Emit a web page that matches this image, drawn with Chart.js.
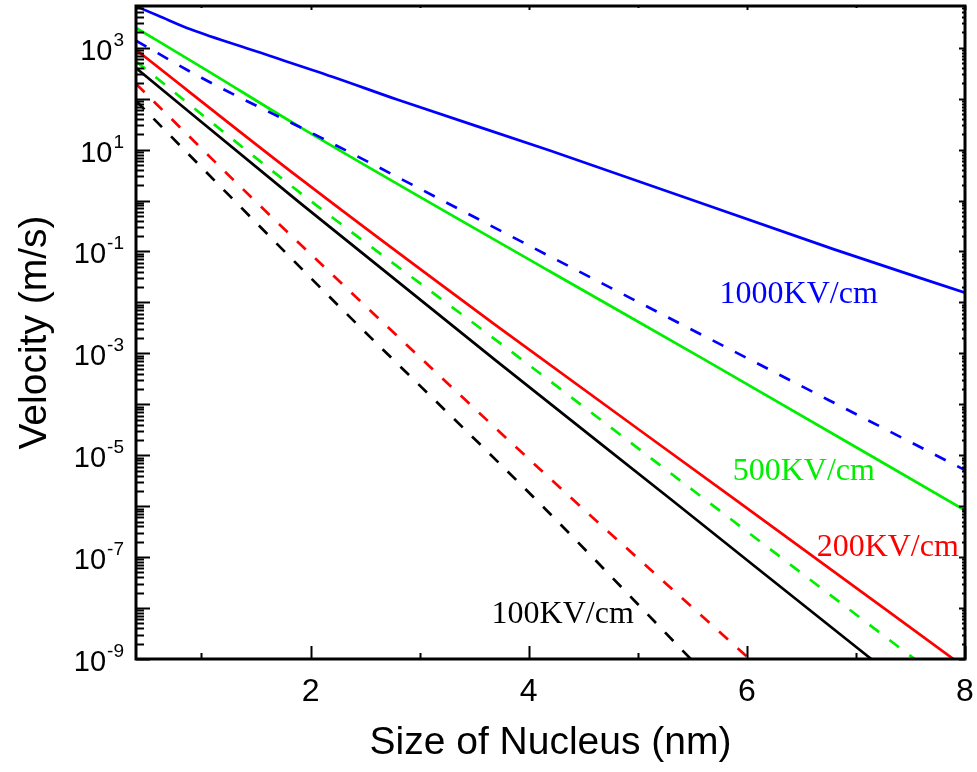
<!DOCTYPE html>
<html>
<head>
<meta charset="utf-8">
<script src="https://cdn.jsdelivr.net/npm/chart.js@4.4.0/dist/chart.umd.min.js"></script>
<style>
  html, body { margin: 0; padding: 0; background: #fff; }
  canvas { display: block; }
</style>
</head>
<body>
<canvas id="grafico" width="977" height="772"></canvas>
<script>
// valores (velocidad en m/s, tamaño en nm)
const x1000Solid = [0.4, 0.6, 0.9, 1.5, 2.2, 2.8, 4.2, 6.8, 8.0];
const v1000Solid = [6500, 4300, 2300, 850, 270, 95, 9.5, 0.11, 0.0155];

const x1000Dash = [0.4, 1.0, 2.1, 4.2, 5.6, 8.0];
const v1000Dash = [1380, 257, 17, 0.079, 2.24e-3, 5.1e-6];

const x500Solid = [0.4, 1.0, 1.9, 4.2, 5.6, 8.0];
const v500Solid = [2450, 417, 28, 0.040, 7.8e-4, 8.3e-7];

const x500Dash = [0.4, 1.9, 3.8, 5.5, 7.5, 8.0];
const v500Dash = [540, 1.45, 1.26e-3, 2.1e-6, 1.15e-9, 1.8e-10];

const x200Solid = [0.4, 1.9, 3.7, 5.9, 8.0];
const v200Solid = [910, 2.75, 3.55e-3, 1.32e-6, 6.8e-10];

const x200Dash = [0.4, 1.45, 2.1, 4.15, 5.9, 6.1];
const v200Dash = [195, 1.2, 0.056, 4.3e-6, 1.74e-9, 7.1e-10];

const x100Solid = [0.4, 1.9, 3.7, 5.3, 7.1, 8.0];
const v100Solid = [400, 0.91, 7.2e-4, 1.38e-6, 1.17e-9, 3.5e-11];

const x100Dash = [0.4, 0.65, 1.25, 2.25, 4.15, 5.35, 5.6];
const v100Dash = [91, 26, 1.29, 8.9e-3, 8.9e-7, 2.0e-9, 5.6e-10];

// ejes
const xTicks = [2, 4, 6, 8];
const xMinorTicks = [1, 3, 5, 7];
const yLabelExps = [3, 1, -1, -3, -5, -7, -9];
const yMinExp = -9;
const yMaxExp = 3;

// etiquetas de campo
const campoTextos = ['1000KV/cm', '500KV/cm', '200KV/cm', '100KV/cm'];
const campoColores = ['#0000ff', '#00ee00', '#ff0000', '#000000'];
const campoX = [5.75, 5.87, 6.64, 3.66];
const campoY = [9.8e-3, 3.2e-6, 1.05e-7, 5.0e-9];

const fuenteSans = '"Liberation Sans", Arial, sans-serif';

function puntos(xs, vs) {
    return xs.map((x, i) => ({ x: x, y: vs[i] }));
}

function serie(xs, vs, color, dashed) {
    return {
        data: puntos(xs, vs),
        borderColor: color,
        borderWidth: 2.7,
        borderDash: dashed ? [12, 13] : [],
        pointRadius: 0,
        cubicInterpolationMode: 'monotone',
        fill: false
    };
}

// Dibuja el marco, las marcas hacia adentro y las etiquetas 10^n
const marcasPlugin = {
    id: 'marcas',
    afterDatasetsDraw(chart) {
        const ctx = chart.ctx;
        const a = chart.chartArea;
        const xs = chart.scales.x;
        const ys = chart.scales.y;
        ctx.save();
        ctx.strokeStyle = '#000';
        ctx.lineCap = 'butt';

        ctx.lineWidth = 2;
        // marcas eje y (izquierda y derecha)
        for (let e = yMinExp; e <= yMaxExp + 1; e++) {
            for (let m = 1; m <= 9; m++) {
                const v = m * Math.pow(10, e);
                if (v < ys.min * 0.999 || v > ys.max) continue;
                const py = Math.round(ys.getPixelForValue(v)) + 0.5;
                const largo = m === 1 ? 14 : 8;
                ctx.beginPath();
                ctx.moveTo(a.left, py);
                ctx.lineTo(a.left + largo, py);
                ctx.stroke();
                const largoDer = m === 1 ? 6 : 3;
                ctx.beginPath();
                ctx.moveTo(a.right, py);
                ctx.lineTo(a.right - largoDer, py);
                ctx.stroke();
            }
        }
        // marcas eje x (abajo y arriba)
        xTicks.concat(xMinorTicks).forEach(v => {
            const px = Math.round(xs.getPixelForValue(v)) + 0.5;
            const mayor = xTicks.includes(v);
            ctx.beginPath();
            ctx.moveTo(px, a.bottom);
            ctx.lineTo(px, a.bottom - (mayor ? 13 : 6));
            ctx.stroke();
            ctx.beginPath();
            ctx.moveTo(px, a.top);
            ctx.lineTo(px, a.top + (mayor ? 4 : 2));
            ctx.stroke();
        });

        // marco
        ctx.lineWidth = 3;
        ctx.strokeRect(a.left, a.top, a.right - a.left, a.bottom - a.top);

        // etiquetas del eje y con exponente
        ctx.fillStyle = '#000';
        ctx.textAlign = 'left';
        ctx.textBaseline = 'alphabetic';
        const derecha = a.left - 12;
        yLabelExps.forEach(e => {
            const py = ys.getPixelForValue(Math.pow(10, e));
            const expo = String(e);
            ctx.font = '19px ' + fuenteSans;
            const we = ctx.measureText(expo).width;
            ctx.font = '29px ' + fuenteSans;
            const wb = ctx.measureText('10').width;
            ctx.fillText('10', derecha - we - wb - 1, py + 12);
            ctx.font = '19px ' + fuenteSans;
            ctx.fillText(expo, derecha - we, py - 2);
        });

        // etiquetas de cada campo
        ctx.font = '32px "Liberation Serif", "Times New Roman", serif';
        campoTextos.forEach((t, i) => {
            ctx.fillStyle = campoColores[i];
            ctx.fillText(t, xs.getPixelForValue(campoX[i]), ys.getPixelForValue(campoY[i]));
        });
        ctx.restore();
    }
};

const ctx = document.getElementById('grafico').getContext('2d');
const grafico = new Chart(ctx, {
    type: 'line',
    data: {
        datasets: [
            serie(x1000Solid, v1000Solid, '#0000ff', false),
            serie(x1000Dash, v1000Dash, '#0000ff', true),
            serie(x500Solid, v500Solid, '#00ee00', false),
            serie(x500Dash, v500Dash, '#00ee00', true),
            serie(x200Solid, v200Solid, '#ff0000', false),
            serie(x200Dash, v200Dash, '#ff0000', true),
            serie(x100Solid, v100Solid, '#000000', false),
            serie(x100Dash, v100Dash, '#000000', true)
        ]
    },
    options: {
        responsive: false,
        animation: false,
        layout: { padding: { top: 6, right: 12, left: 0, bottom: 0 } },
        plugins: {
            legend: { display: false },
            tooltip: { enabled: false }
        },
        scales: {
            x: {
                type: 'linear',
                min: 0.4,
                max: 8,
                grid: { display: false },
                border: { display: false },
                afterBuildTicks: (scale) => {
                    scale.ticks = xTicks.map(v => ({ value: v }));
                },
                afterFit: (scale) => {
                    scale.height = 113;
                    scale.paddingLeft = 0;
                    scale.paddingRight = 0;
                },
                ticks: {
                    autoSkip: false,
                    maxRotation: 0,
                    padding: 6,
                    color: '#000',
                    font: { family: fuenteSans, size: 32 },
                    callback: (v) => String(v)
                },
                title: {
                    display: true,
                    text: 'Size of Nucleus (nm)',
                    color: '#000',
                    font: { family: fuenteSans, size: 39 },
                    padding: { top: 0, bottom: 5 }
                }
            },
            y: {
                type: 'logarithmic',
                min: Math.pow(10, yMinExp),
                max: 6600,
                grid: { display: false },
                border: { display: false },
                afterBuildTicks: (scale) => {
                    scale.ticks = yLabelExps.map(e => ({ value: Math.pow(10, e) }));
                },
                afterFit: (scale) => {
                    scale.width = 136;
                    scale.paddingTop = 0;
                    scale.paddingBottom = 0;
                },
                ticks: { display: false },
                title: {
                    display: true,
                    text: 'Velocity (m/s)',
                    color: '#000',
                    font: { family: fuenteSans, size: 39 },
                    padding: { top: 12, bottom: 0 }
                }
            }
        }
    },
    plugins: [marcasPlugin]
});
</script>
</body>
</html>
